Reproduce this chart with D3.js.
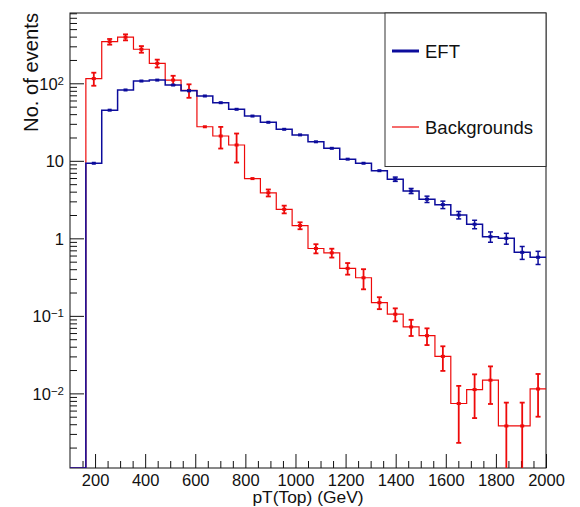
<!DOCTYPE html>
<html>
<head>
<meta charset="utf-8">
<script src="https://cdn.jsdelivr.net/npm/d3@7"></script>
<style>
  body { margin: 0; background: #fff; }
  text { font-family: "Liberation Sans", Arial, Helvetica, sans-serif; fill: #111; }
</style>
</head>
<body>
<svg id="chart" width="580" height="507"></svg>
<script>
// Histogram binning of pT(Top): 30 bins from 100 to 2000 GeV
const binEdges = [100, 163.33, 226.67, 290, 353.33, 416.67, 480, 543.33, 606.67, 670,
  733.33, 796.67, 860, 923.33, 986.67, 1050, 1113.33, 1176.67, 1240, 1303.33,
  1366.67, 1430, 1493.33, 1556.67, 1620, 1683.33, 1746.67, 1810, 1873.33, 1936.67, 2000];

// EFT signal: bin contents and errors
const eftValues = [0, 9.3, 45, 82, 107, 110, 95, 80, 68.6, 56.2, 46.2, 37.8, 31.4, 25.5,
  21.6, 17.6, 14.5, 10.5, 9.3, 7.46, 5.8, 4.09, 3.2, 2.72, 2.0, 1.52, 1.05, 1.0, 0.66, 0.57];
const eftErrors = [0, 0.5, 1.0, 1.4, 1.6, 1.6, 1.5, 1.4, 1.3, 1.15, 1.05, 0.95, 0.87, 0.78,
  0.72, 0.65, 0.59, 0.5, 0.47, 0.42, 0.37, 0.31, 0.3, 0.3, 0.22, 0.19, 0.16, 0.16, 0.125, 0.11];

// Backgrounds: bin contents and errors
const bkgValues = [0, 115, 344, 393, 275, 181, 110, 81, 27.5, 20.9, 16, 5.9, 3.87, 2.37,
  1.46, 0.74, 0.65, 0.41, 0.31, 0.148, 0.105, 0.072, 0.0555, 0.030, 0.0074, 0.0112,
  0.0148, 0.0038, 0.0038, 0.0114];
const bkgErrors = [0, 22, 29, 35, 27, 21, 15, 16, 1.5, 6.5, 6.5, 0.35, 0.4, 0.27, 0.15,
  0.1, 0.085, 0.07, 0.09, 0.026, 0.02, 0.017, 0.0135, 0.0105, 0.0051, 0.0064, 0.0075,
  0.0038, 0.0038, 0.0064];

// Axis tick definitions
const xMajorTicks = [200, 400, 600, 800, 1000, 1200, 1400, 1600, 1800, 2000];
const xMinorTicks = [150, 250, 300, 350, 450, 500, 550, 650, 700, 750, 850, 900, 950,
  1050, 1100, 1150, 1250, 1300, 1350, 1450, 1500, 1550, 1650, 1700, 1750, 1850, 1900, 1950];
const yMajorTicks = [0.01, 0.1, 1, 10, 100];
const yTickLabels = [["10", "\u22122"], ["10", "\u22121"], ["1", null], ["10", null], ["10", "2"]];

const legendNames = ["EFT", "Backgrounds"];
const xTitle = "pT(Top) (GeV)";
const yTitle = "No. of events";

const frame = { left: 70, right: 546, top: 13, bottom: 468 };
const blue = "#0c0c9c";
const red = "#ee0a0a";

const svg = d3.select("#chart");
svg.append("rect").attr("width", 580).attr("height", 507).attr("fill", "#fff");

const x = d3.scaleLinear().domain([100, 2000]).range([frame.left, frame.right]);
const y = d3.scaleLog().domain([0.00109, 807]).range([frame.bottom, frame.top]);
const yMin = y.domain()[0];

// Minor y ticks: 2..9 within each decade that falls in the domain
const yMinorTicks = [];
for (let e = -3; e <= 2; e++) {
  for (let m = 2; m <= 9; m++) {
    const v = m * Math.pow(10, e);
    if (v > y.domain()[0] && v < y.domain()[1]) yMinorTicks.push(v);
  }
}

// Axes with inward ticks
const gx = svg.append("g").attr("transform", `translate(0,${frame.bottom})`);
gx.call(d3.axisBottom(x).tickValues(xMajorTicks).tickSizeInner(-14).tickSizeOuter(0)
  .tickPadding(6).tickFormat(d3.format("d")));
gx.append("g").call(d3.axisBottom(x).tickValues(xMinorTicks).tickSizeInner(-7)
  .tickSizeOuter(0).tickFormat(""));
gx.selectAll("text").attr("font-size", 16.5).style("font-family", "Liberation Sans, Arial, sans-serif").attr("fill", "#111");

const gy = svg.append("g").attr("transform", `translate(${frame.left},0)`);
gy.call(d3.axisLeft(y).tickValues(yMajorTicks).tickSizeInner(-14).tickSizeOuter(0)
  .tickPadding(6).tickFormat(""));
gy.append("g").call(d3.axisLeft(y).tickValues(yMinorTicks).tickSizeInner(-7)
  .tickSizeOuter(0).tickFormat(""));
gy.selectAll(".tick line").attr("stroke", "#111");
gx.selectAll(".tick line").attr("stroke", "#111");
gx.selectAll(".domain").remove();
gy.selectAll(".domain").remove();

// Log labels with superscript powers
gy.selectAll(":scope > .tick").each(function(d, i) {
  const lab = yTickLabels[yMajorTicks.indexOf(d)];
  const t = d3.select(this).append("text")
    .attr("x", -6).attr("dy", "0.35em")
    .attr("text-anchor", "end")
    .attr("font-size", 16.5).attr("fill", "#111");
  t.append("tspan").text(lab[0]);
  if (lab[1]) {
    t.append("tspan").attr("dy", "-0.42em").attr("font-size", 11.5).text(lab[1]);
  }
});

// Frame
svg.append("rect")
  .attr("x", frame.left).attr("y", frame.top)
  .attr("width", frame.right - frame.left).attr("height", frame.bottom - frame.top)
  .attr("fill", "none").attr("stroke", "#111").attr("stroke-width", 1);

// Plot area clip
svg.append("clipPath").attr("id", "plotClip").append("rect")
  .attr("x", frame.left).attr("y", frame.top - 1)
  .attr("width", frame.right - frame.left + 1).attr("height", frame.bottom - frame.top + 1);

const plot = svg.append("g").attr("clip-path", "url(#plotClip)");

function drawHist(values, errors, color, lineWidth, errWidth) {
  const pts = values.map((v, i) => [binEdges[i], Math.max(v, yMin)]);
  pts.push([binEdges[binEdges.length - 1], Math.max(values[values.length - 1], yMin)]);
  const line = d3.line().x(d => x(d[0])).y(d => y(d[1])).curve(d3.curveStepAfter);
  plot.append("path").attr("d", line(pts))
    .attr("fill", "none").attr("stroke", color).attr("stroke-width", lineWidth);

  const g = plot.append("g").attr("stroke", color).attr("fill", color);
  values.forEach((v, i) => {
    if (v <= 0) return;
    const cx = x((binEdges[i] + binEdges[i + 1]) / 2);
    const cy = y(v);
    const yHi = y(v + errors[i]);
    const lo = v - errors[i];
    const yLo = lo > yMin ? y(lo) : frame.bottom + 5;
    if (cy - yHi > 2.2 || yLo - cy > 2.2) {
      g.append("line").attr("x1", cx).attr("x2", cx).attr("y1", yHi).attr("y2", yLo)
        .attr("stroke-width", errWidth);
      g.append("line").attr("x1", cx - 2.5).attr("x2", cx + 2.5).attr("y1", yHi).attr("y2", yHi)
        .attr("stroke-width", errWidth);
      if (lo > yMin) {
        g.append("line").attr("x1", cx - 2.5).attr("x2", cx + 2.5).attr("y1", yLo).attr("y2", yLo)
          .attr("stroke-width", errWidth);
      }
    }
    g.append("rect").attr("x", cx - 2).attr("y", cy - 1.5).attr("width", 4).attr("height", 3)
      .attr("stroke", "none");
  });
}

drawHist(bkgValues, bkgErrors, red, 1.2, 1.8);
drawHist(eftValues, eftErrors, blue, 1.5, 1.5);

// Legend
const leg = svg.append("g");
leg.append("rect").attr("x", 385).attr("y", frame.top).attr("width", frame.right - 385)
  .attr("height", 166.5 - frame.top).attr("fill", "#fff").attr("stroke", "#333").attr("stroke-width", 1);
const legColors = [blue, red];
const legWidths = [3, 1.2];
const legY = [51, 127];
legendNames.forEach((name, i) => {
  leg.append("line").attr("x1", 392).attr("x2", 419).attr("y1", legY[i]).attr("y2", legY[i])
    .attr("stroke", legColors[i]).attr("stroke-width", legWidths[i]);
  leg.append("text").attr("x", 425).attr("y", legY[i] + 6.5)
    .attr("font-size", 18.5).text(name);
});

// Titles
svg.append("text").attr("x", (frame.left + frame.right) / 2).attr("y", 503)
  .attr("text-anchor", "middle").attr("font-size", 17.4).text(xTitle);
svg.append("text").attr("transform", `translate(38,${frame.top}) rotate(-90)`)
  .attr("text-anchor", "end").attr("font-size", 20.2).text(yTitle);
</script>
</body>
</html>
